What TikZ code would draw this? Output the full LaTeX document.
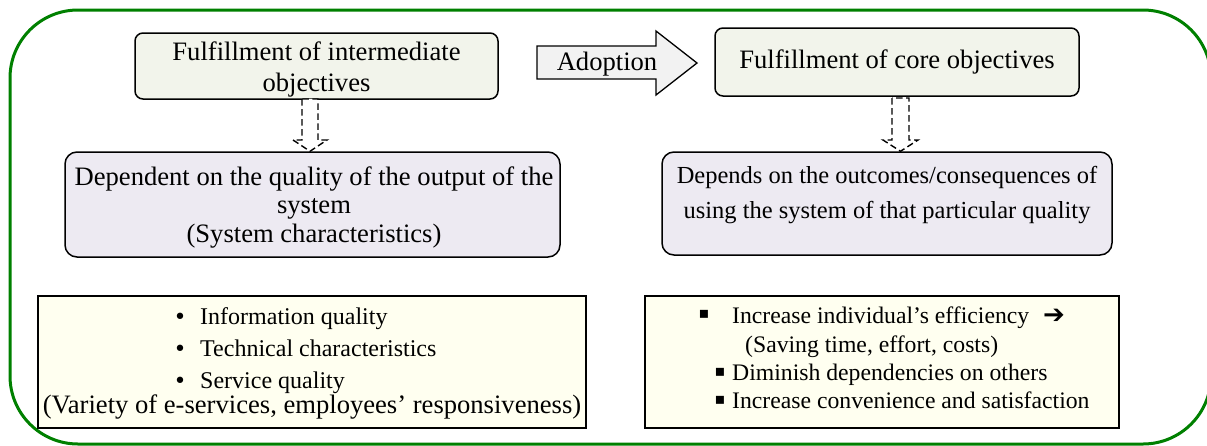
\documentclass[tikz,border=0pt]{standalone}
\usepackage{fontspec}
\usetikzlibrary{calc}
\setmainfont{Liberation Serif}
\newfontfamily\symfont{DejaVu Sans}
\definecolor{framegreen}{RGB}{0,128,0}
\definecolor{topfill}{RGB}{242,244,235}
\definecolor{midfill}{RGB}{237,234,242}
\definecolor{lowfill}{RGB}{255,255,240}
\definecolor{arrowfill}{RGB}{242,242,242}
\begin{document}
\begin{tikzpicture}[x=1pt,y=-1pt,
  txt/.style={font=\fontsize{26.6}{30}\selectfont, inner sep=0pt, anchor=base},
  txtd/.style={txt, font=\fontsize{24.5}{28}\selectfont},
  txte/.style={txt, anchor=base west, font=\fontsize{24}{28}\selectfont},
  txtf/.style={txt, anchor=base west, font=\fontsize{23.7}{28}\selectfont},
  topbox/.style={draw=black, line width=1.5pt, fill=topfill, rounded corners=8pt, inner sep=0pt},
  midbox/.style={draw=black, line width=1.5pt, fill=midfill, rounded corners=12pt, inner sep=0pt},
  lowbox/.style={draw=black, line width=1.8pt, fill=lowfill, inner sep=0pt},
  dasharrow/.style={draw=black, line width=1.4pt, dash pattern=on 6.5pt off 3.5pt, fill=white},
  blockarrow/.style={draw=black, line width=1.3pt, fill=arrowfill, line join=miter},
  sq/.style={font=\symfont\fontsize{16}{18}\selectfont, inner sep=0pt, anchor=base},
  dot/.style={font=\symfont\fontsize{22}{24}\selectfont, inner sep=0pt, anchor=base}
]
\useasboundingbox (0,0) rectangle (1207,445);
% green frame
\draw[framegreen, line width=3pt, rounded corners=68pt] (10,10) rectangle (1211,444);

% top boxes
\node[topbox, minimum width=363pt, minimum height=66pt] (A) at (316.5,66) {};
\node[txt] (A1) at (316.5,60) {Fulfillment of intermediate};
\node[txt] (A2) at (316.5,91) {objectives};

\node[topbox, minimum width=364pt, minimum height=68pt] (B) at (897,62) {};
\node[txt] (B1) at (897,68) {Fulfillment of core objectives};

% adoption arrow
\draw[blockarrow] (537,46) -- (656,46) -- (656,31) -- (697,63) -- (656,95) -- (656,79) -- (537,79) -- cycle;
\node[txt] (adopt) at (607,70) {Adoption};

% middle boxes
\node[midbox, minimum width=495pt, minimum height=105pt] (C) at (312.5,204.5) {};
\node[txt] (C1) at (314,185) {Dependent on the quality of the output of the};
\node[txt] (C2) at (314,213) {system};
\node[txt] (C3) at (314,242) {(System characteristics)};

\node[midbox, minimum width=450pt, minimum height=103pt] (D) at (887,203.5) {};
\node[txtd] (D1) at (887,183) {Depends on the outcomes/consequences of};
\node[txtd] (D2) at (887,218) {using the system of that particular quality};

% dashed block arrows
\coordinate (a1) at (310,99);
\coordinate (a2) at (900.5,98);
\draw[dasharrow] ($(a1)+(-8,0)$) -- ($(a1)+(-8,41)$) -- ($(a1)+(-17,41)$) -- (a1 |- C.north) -- ($(a1)+(17,41)$) -- ($(a1)+(8,41)$) -- ($(a1)+(8,0)$) -- cycle;
\draw[dasharrow] ($(a2)+(-8.5,0)$) -- ($(a2)+(-8.5,42)$) -- ($(a2)+(-17.5,42)$) -- (a2 |- D.north) -- ($(a2)+(17.5,42)$) -- ($(a2)+(8.5,42)$) -- ($(a2)+(8.5,0)$) -- cycle;

% lower boxes
\node[lowbox, minimum width=548pt, minimum height=132pt] (E) at (312,362) {};
\node[dot] (Eb1) at (180,324) {•};
\node[txte] (E1) at (200,324) {Information quality};
\node[dot] (Eb2) at (180,356) {•};
\node[txte] (E2) at (200,356) {Technical characteristics};
\node[dot] (Eb3) at (180,388) {•};
\node[txte] (E3) at (200,388) {Service quality};
\node[txt] (E4) at (312,413) {(Variety of e-services, employees’ responsiveness)};

\node[lowbox, minimum width=474pt, minimum height=132pt] (F) at (882,362) {};
\node[sq] (Fb1) at (704,318) {▪};
\node[txtf] (F1) at (732,323) {Increase individual’s efficiency};
\node[font=\symfont\fontsize{26}{28}\selectfont, inner sep=0pt, anchor=base west] (Farr) at (1043,323) {➔};
\node[txtf] (F2) at (745,352) {(Saving time, effort, costs)};
\node[sq] (Fb3) at (720,376) {▪};
\node[txtf] (F3) at (732,380) {Diminish dependencies on others};
\node[sq] (Fb4) at (720,404) {▪};
\node[txtf] (F4) at (732,408) {Increase convenience and satisfaction};
\end{tikzpicture}
\end{document}
